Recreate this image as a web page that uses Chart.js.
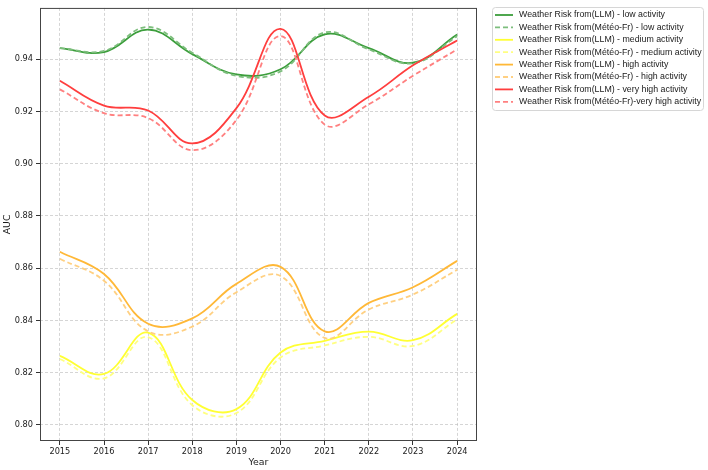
<!DOCTYPE html>
<html>
<head>
<meta charset="utf-8">
<script src="https://cdn.jsdelivr.net/npm/chart.js@4.4.1/dist/chart.umd.min.js"></script>
<style>
  html, body { margin: 0; padding: 0; background: #fff; }
</style>
</head>
<body>
<canvas id="aucChart" width="708" height="470"></canvas>
<script>
// yearly AUC values
const years = [2015, 2016, 2017, 2018, 2019, 2020, 2021, 2022, 2023, 2024];
const yTicks = [0.80, 0.82, 0.84, 0.86, 0.88, 0.90, 0.92, 0.94];

const lowLLM   = [0.9443, 0.9428, 0.9514, 0.9420, 0.9342, 0.9362, 0.9496, 0.9443, 0.9387, 0.9495];
const lowMeteo = [0.9443, 0.9432, 0.9524, 0.9425, 0.9337, 0.9354, 0.9503, 0.9438, 0.9385, 0.9489];
const medLLM   = [0.8264, 0.8195, 0.8353, 0.8095, 0.8060, 0.8277, 0.8322, 0.8357, 0.8324, 0.8425];
const medMeteo = [0.8252, 0.8178, 0.8336, 0.8075, 0.8045, 0.8258, 0.8304, 0.8337, 0.8302, 0.8404];
const highLLM   = [0.8663, 0.8578, 0.8387, 0.8408, 0.8540, 0.8605, 0.8358, 0.8467, 0.8527, 0.8628];
const highMeteo = [0.8636, 0.8552, 0.8358, 0.8376, 0.8508, 0.8570, 0.8333, 0.8442, 0.8499, 0.8594];
const vhighLLM   = [0.9318, 0.9223, 0.9204, 0.9078, 0.9213, 0.9517, 0.9185, 0.9257, 0.9377, 0.9472];
const vhighMeteo = [0.9285, 0.9194, 0.9175, 0.9052, 0.9168, 0.9489, 0.9150, 0.9228, 0.9337, 0.9438];

const seriesLabels = [
    'Weather Risk from(LLM) - low activity',
    'Weather Risk from(Météo-Fr) - low activity',
    'Weather Risk from(LLM) - medium activity',
    'Weather Risk from(Météo-Fr) - medium activity',
    'Weather Risk from(LLM) - high activity',
    'Weather Risk from(Météo-Fr) - high activity',
    'Weather Risk from(LLM) - very high activity',
    'Weather Risk from(Météo-Fr)-very high activity'
];
const seriesValues = [lowLLM, lowMeteo, medLLM, medMeteo, highLLM, highMeteo, vhighLLM, vhighMeteo];
const seriesColors = [
    'rgb(60,158,60)', 'rgb(125,190,125)',
    'rgb(255,255,50)', 'rgb(255,255,130)',
    'rgb(255,184,55)', 'rgb(255,208,130)',
    'rgb(255,62,62)', 'rgb(255,128,128)'
];

var datasets = seriesValues.map(function (vals, i) {
    var dashed = i % 2 === 1;
    return {
        label: seriesLabels[i],
        data: years.map(function (yr, k) { return { x: yr, y: vals[k] }; }),
        borderColor: seriesColors[i],
        backgroundColor: seriesColors[i],
        borderWidth: 1.8,
        borderDash: dashed ? [5, 3] : [],
        pointRadius: 0,
        tension: 0.4,
        fill: false,
        order: seriesValues.length - i // later series on top, like the original
    };
});

// frame round the plot and the legend box
const decorations = {
    id: 'decorations',
    afterDatasetsDraw: function (chart) {
        var a = chart.chartArea, ctx = chart.ctx;
        ctx.save();
        ctx.strokeStyle = '#444';
        ctx.lineWidth = 1;
        ctx.strokeRect(a.left + 0.5, a.top + 0.5, a.right - a.left - 1, a.bottom - a.top - 1);
        ctx.restore();
    },
    afterDraw: function (chart) {
        var ctx = chart.ctx;
        var x0 = 492.5, y0 = 7.5, w = 211, h = 103, r = 3;
        ctx.save();
        ctx.fillStyle = 'rgba(255,255,255,0.9)';
        ctx.strokeStyle = '#d6d6d6';
        ctx.lineWidth = 1;
        ctx.beginPath();
        ctx.roundRect(x0, y0, w, h, r);
        ctx.fill();
        ctx.stroke();
        ctx.font = '8.8px "Liberation Sans", Arial, sans-serif';
        ctx.textBaseline = 'middle';
        ctx.fillStyle = '#1a1a1a';
        chart.data.datasets.forEach(function (ds, i) {
            var y = 15 + i * 12.4;
            ctx.strokeStyle = ds.borderColor;
            ctx.lineWidth = 1.8;
            ctx.setLineDash(ds.borderDash);
            ctx.beginPath();
            ctx.moveTo(495, y);
            ctx.lineTo(513, y);
            ctx.stroke();
            ctx.setLineDash([]);
            ctx.fillText(ds.label, 519, y);
        });
        ctx.restore();
    }
};

var ctx = document.getElementById('aucChart').getContext('2d');
var aucChart = new Chart(ctx, {
    type: 'line',
    data: { datasets: datasets },
    plugins: [decorations],
    options: {
        responsive: false,
        animation: false,
        devicePixelRatio: 1,
        layout: { padding: { left: 0, top: 3, right: 231, bottom: 0 } },
        plugins: {
            legend: { display: false },
            tooltip: { enabled: false }
        },
        scales: {
            x: {
                type: 'linear',
                min: 2014.55,
                max: 2024.45,
                afterBuildTicks: function (scale) {
                    scale.ticks = years.map(function (v) { return { value: v }; });
                },
                afterFit: function (scale) { scale.height = 29; },
                ticks: {
                    callback: function (v) { return String(v); },
                    font: { family: 'DejaVu Sans', size: 8.2 },
                    color: '#1a1a1a',
                    padding: 2,
                    maxRotation: 0,
                    autoSkip: false
                },
                grid: {
                    color: 'rgba(185,185,185,0.75)',
                    lineWidth: 0.8,
                    tickColor: '#333',
                    tickLength: 4,
                    tickWidth: 1
                },
                border: { display: false, dash: [3, 2] },
                title: {
                    display: true,
                    text: 'Year',
                    font: { family: 'DejaVu Sans', size: 9.4 },
                    color: '#1a1a1a',
                    padding: { top: 0, bottom: 1.5 }
                }
            },
            y: {
                min: 0.7938,
                max: 0.9597,
                afterBuildTicks: function (scale) {
                    scale.ticks = yTicks.map(function (v) { return { value: v }; });
                },
                afterFit: function (scale) { scale.width = 40; },
                ticks: {
                    callback: function (v) { return v.toFixed(2); },
                    font: { family: 'DejaVu Sans', size: 8.2 },
                    color: '#1a1a1a',
                    padding: 3
                },
                grid: {
                    color: 'rgba(185,185,185,0.75)',
                    lineWidth: 0.8,
                    tickColor: '#333',
                    tickLength: 4,
                    tickWidth: 1
                },
                border: { display: false, dash: [3, 2] },
                title: {
                    display: true,
                    text: 'AUC',
                    font: { family: 'DejaVu Sans', size: 9.4 },
                    color: '#1a1a1a',
                    padding: { top: 2, bottom: 0 }
                }
            }
        }
    }
});
</script>
</body>
</html>
